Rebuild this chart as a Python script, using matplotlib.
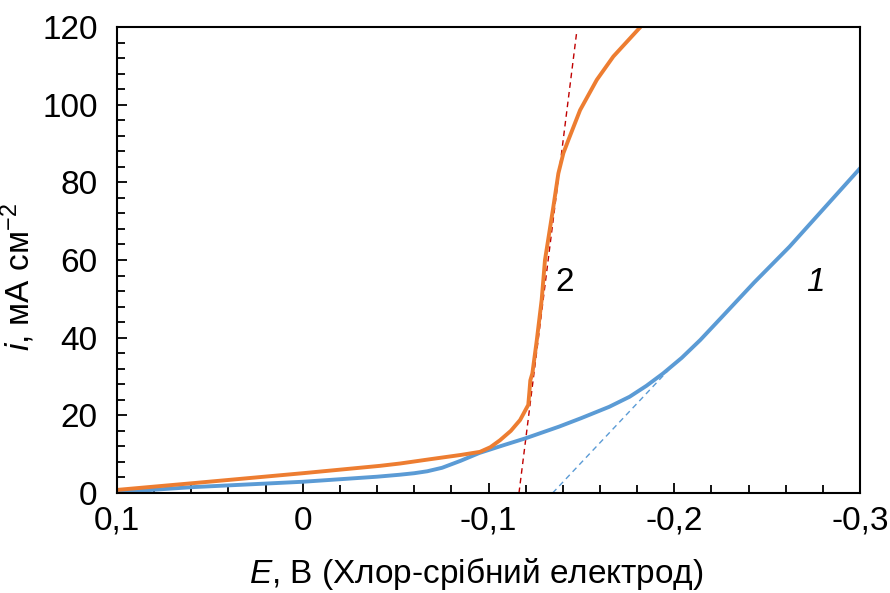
import matplotlib as mpl
mpl.use('Agg')
from matplotlib import pyplot as plt
from matplotlib.ticker import MultipleLocator

plt.rcParams['font.family'] = ['Liberation Sans', 'DejaVu Sans']
plt.rcParams['mathtext.fontset'] = 'custom'
plt.rcParams['mathtext.rm'] = 'Liberation Sans'
plt.rcParams['mathtext.it'] = 'Liberation Sans:italic'

# curve 1 (blue)
e1 = [0.1, 0.06, 0.0, -0.04, -0.052, -0.06, -0.067, -0.075, -0.085, -0.095, -0.108,
      -0.12, -0.138, -0.15, -0.165, -0.176, -0.185, -0.194, -0.204, -0.214, -0.225,
      -0.243, -0.262, -0.3]
i1 = [0.2, 1.5, 2.9, 4.2, 4.7, 5.1, 5.6, 6.5, 8.3, 10.3, 12.3,
      14.1, 17.1, 19.3, 22.2, 24.8, 27.6, 30.8, 34.8, 39.4, 45.0,
      54.2, 63.4, 83.6]

# curve 2 (orange)
e2 = [0.1, 0.06, 0.0, -0.0416, -0.0524, -0.0685, -0.085, -0.0954, -0.101, -0.1062,
      -0.112, -0.117, -0.1214, -0.122, -0.1225, -0.1236, -0.126, -0.1286, -0.1304,
      -0.1349, -0.1376, -0.1403, -0.143, -0.1493, -0.1583, -0.1672, -0.1816]
i2 = [0.8, 2.5, 5.1, 7.0, 7.6, 8.7, 9.8, 10.6, 11.8, 13.6,
      16.0, 18.8, 22.7, 26.0, 29.0, 30.8, 39.4, 49.7, 60.0,
      73.7, 82.3, 87.5, 90.9, 98.6, 106.4, 112.4, 119.9]

# tangents
tan2_e = [-0.1164, -0.1475]
tan2_i = [0.0, 118.8]
tan1_e = [-0.1345, -0.2015]
tan1_i = [0.0, 34.0]

xticks = [0.1, 0.0, -0.1, -0.2, -0.3]
xticklabels = ['0,1', '0', '-0,1', '-0,2', '-0,3']
yticks = [0, 20, 40, 60, 80, 100, 120]

fig = plt.figure(figsize=(8.9, 5.93), dpi=100)
ax = fig.add_axes([0.1315, 0.1686, 0.8348, 0.7859])

ax.plot(tan2_e, tan2_i, color='#C00000', linewidth=1.0, linestyle=(0, (4, 3)))
ax.plot(tan1_e, tan1_i, color='#5B9BD5', linewidth=1.0, linestyle=(0, (4, 3)))
ax.plot(e1, i1, color='#5B9BD5', linewidth=2.8, solid_joinstyle='round')
ax.plot(e2, i2, color='#ED7D31', linewidth=2.8, solid_joinstyle='round')

ax.text(-0.1412, 54.3, '2', fontsize=24, ha='center', va='center')
ax.text(-0.2758, 54.3, '1', fontsize=24, ha='center', va='center', style='italic')

ax.set_xlim(0.1, -0.3)
ax.set_ylim(0, 120)
ax.set_xticks(xticks)
ax.set_xticklabels(xticklabels)
ax.set_yticks(yticks)
ax.xaxis.set_minor_locator(MultipleLocator(0.02))
ax.yaxis.set_minor_locator(MultipleLocator(4))
ax.tick_params(which='both', direction='in', width=1.3, labelsize=24)
ax.tick_params(which='major', length=7)
ax.tick_params(which='minor', length=5.5)
ax.tick_params(axis='x', pad=9)
ax.tick_params(axis='y', pad=14)
for s in ax.spines.values():
    s.set_linewidth(1.5)

ax.set_xlabel(r'$\mathit{E}$, В (Хлор-срібний електрод)', fontsize=24)
ax.set_ylabel(r'$\mathit{i}$, мА см$^{−2}$', fontsize=24)
ax.xaxis.set_label_coords(0.483, -0.136)
ax.yaxis.set_label_coords(-0.108, 0.4635)

fig.savefig('out.png', dpi=100)
